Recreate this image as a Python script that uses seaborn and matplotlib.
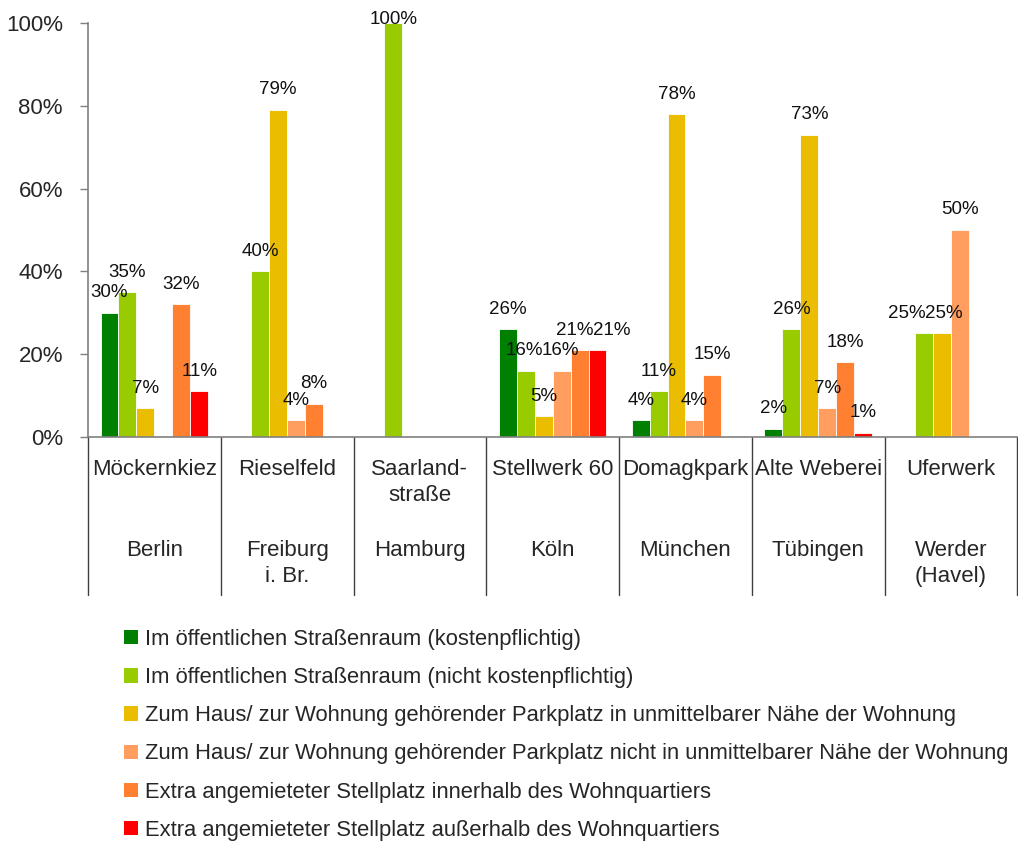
import matplotlib
matplotlib.use("Agg")
import matplotlib.pyplot as plt
import matplotlib.transforms as mtransforms
from matplotlib.patches import Patch
import seaborn as sns
import pandas as pd

projects = ["Möckernkiez", "Rieselfeld", "Saarland-\nstraße", "Stellwerk 60",
            "Domagkpark", "Alte Weberei", "Uferwerk"]
cities = ["Berlin", "Freiburg\ni. Br.", "Hamburg", "Köln", "München",
          "Tübingen", "Werder\n(Havel)"]
series = [
    "Im öffentlichen Straßenraum (kostenpflichtig)",
    "Im öffentlichen Straßenraum (nicht kostenpflichtig)",
    "Zum Haus/ zur Wohnung gehörender Parkplatz in unmittelbarer Nähe der Wohnung",
    "Zum Haus/ zur Wohnung gehörender Parkplatz nicht in unmittelbarer Nähe der Wohnung",
    "Extra angemieteter Stellplatz innerhalb des Wohnquartiers",
    "Extra angemieteter Stellplatz außerhalb des Wohnquartiers",
]
kostenpflichtig = [30, 0, 0, 26, 4, 2, 0]
nicht_kostenpflichtig = [35, 40, 100, 16, 11, 26, 25]
haus_nah = [7, 79, 0, 5, 78, 73, 25]
haus_fern = [0, 4, 0, 16, 4, 7, 50]
extra_innerhalb = [32, 8, 0, 21, 15, 18, 0]
extra_ausserhalb = [11, 0, 0, 21, 0, 1, 0]
values = [kostenpflichtig, nicht_kostenpflichtig, haus_nah, haus_fern,
          extra_innerhalb, extra_ausserhalb]
colors = ["#008000", "#99CC00", "#EABD00", "#FF9E5E", "#FF8030", "#FF0000"]
yticks = [0, 20, 40, 60, 80, 100]

rows = []
for s, vals in zip(series, values):
    for p, v in zip(projects, vals):
        rows.append({"project": p, "series": s, "value": v})
df = pd.DataFrame(rows)

sns.set_style("white")
plt.rcParams["font.family"] = ["Liberation Sans", "DejaVu Sans"]

fig = plt.figure(figsize=(10.18, 8.41), dpi=100)
ax = fig.add_axes([0.0864, 0.4804, 0.913, 0.4923])

sns.barplot(data=df, x="project", y="value", hue="series", order=projects,
            hue_order=series, palette=colors, saturation=1, width=0.81, ax=ax,
            linewidth=0.6, edgecolor="#ffffff", legend=False, errorbar=None)

# label placement offsets in pixels (dx, dy) relative to bar top centre
base_dy = 20
label_shift = {(4, 3): (-5, base_dy), (5, 3): (14, base_dy),
               (1, 3): (-1, base_dy), (3, 3): (-1, base_dy),
               (1, 6): (-17, base_dy), (2, 6): (2, base_dy), (1, 2): (1, 3)}
for si, (cont, vals) in enumerate(zip(ax.containers, values)):
    for pi, (rect, v) in enumerate(zip(cont, vals)):
        if v <= 0:
            continue
        x = rect.get_x() + rect.get_width() / 2
        y = rect.get_height()
        dx, dy = label_shift.get((si, pi), (0, base_dy))
        ax.annotate(f"{v}%", (x, y), xytext=(dx, dy), textcoords="offset pixels",
                    ha="center", va="center", fontsize=13.5, color="#111111",
                    annotation_clip=False)

ax.set_ylim(0, 100)
ax.set_xlim(-0.5, len(projects) - 0.5)
ax.set_yticks(yticks)
ax.set_yticklabels([f"{t}%" for t in yticks])
ax.tick_params(axis="y", direction="out", length=6, width=1, color="#808080",
               pad=12, labelsize=16, left=True)
ax.set_xticks([])
ax.set_xlabel("")
ax.set_ylabel("")
for side in ["top", "right"]:
    ax.spines[side].set_visible(False)
ax.spines["left"].set_color("#808080")
ax.spines["bottom"].set_color("#808080")
ax.spines["left"].set_linewidth(1.2)
ax.spines["bottom"].set_linewidth(1.2)

trans = mtransforms.blended_transform_factory(ax.transData, ax.transAxes)
for i in range(len(projects) + 1):
    ax.plot([i - 0.5, i - 0.5], [0, -0.382], transform=trans, color="#404040",
            linewidth=1, clip_on=False)
for i, (p, c) in enumerate(zip(projects, cities)):
    ax.text(i, -0.053, p, transform=trans, ha="center", va="top", fontsize=16,
            linespacing=1.3)
    ax.text(i, -0.25, c, transform=trans, ha="center", va="top", fontsize=16,
            linespacing=1.3)

handles = [Patch(facecolor=c, edgecolor="none") for c in colors]
fig.legend(handles, series, loc="upper left", bbox_to_anchor=(0.122, 0.252),
           frameon=False, fontsize=15.8, handlelength=0.62, handleheight=0.62,
           handletextpad=0.35, labelspacing=0.78, borderaxespad=0, borderpad=0)

fig.savefig("out.png", dpi=100)
